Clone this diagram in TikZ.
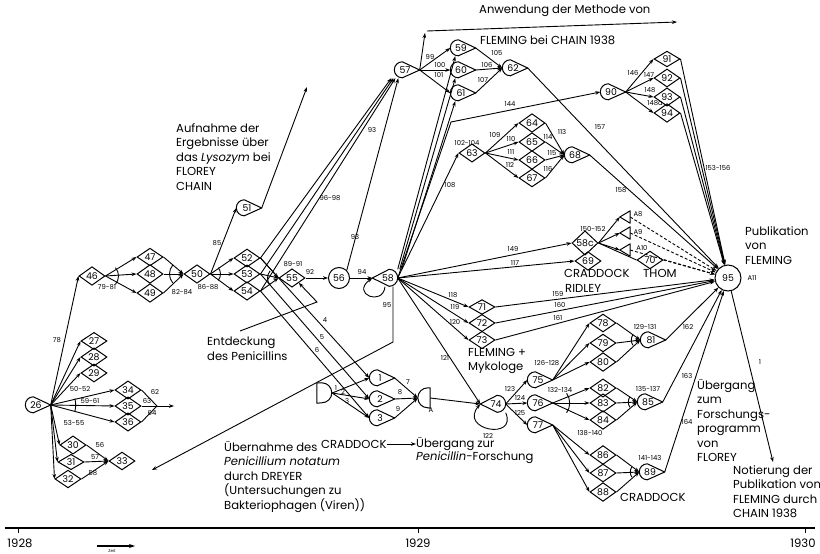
\documentclass[tikz,border=0pt]{standalone}
\usepackage{fontspec}
\setmainfont{Poppins}
\usetikzlibrary{shapes.geometric,arrows.meta,calc}
\newcommand\mypenR[1]{\draw[shp] (#1.east) -- ([xshift=8pt]#1.north west) arc[start angle=90,end angle=270,radius=8pt] -- cycle;}
\newcommand\mypenL[1]{\draw[shp] (#1.west) -- ([xshift=-8.5pt]#1.north east) arc[start angle=90,end angle=-90,radius=8.5pt] -- cycle;}
\newcommand\mytriL[1]{\draw[shp] (#1.west) -- (#1.north east) -- (#1.south east) -- cycle;}
\newcommand\andarc[4]{\draw[ln] ([shift={(#2:#4)}]#1) arc[start angle=#2,end angle=#3,radius=#4];}
\begin{document}
\begin{tikzpicture}[x=1pt,y=-1pt,
  every node/.style={inner sep=0pt},
  num/.style={font=\fontsize{9.3}{10}\selectfont},
  lb/.style={font=\fontsize{6.8}{7}\selectfont},
  bigf/.style={font=\fontsize{11.6}{14.5}\selectfont},
  txt/.style={bigf, align=left, anchor=north west},
  dia/.style={diamond, draw, line width=1pt, minimum width=26pt, minimum height=13pt, num},
  pen/.style={rectangle, minimum width=25pt, minimum height=16pt, num, execute at begin node=\kern-2pt, execute at end node=\kern2pt},
  penl/.style={rectangle, minimum width=25pt, minimum height=17pt, num, execute at begin node=\kern3pt, execute at end node=\kern-3pt},
  circ/.style={circle, draw, line width=1pt, num},
  shp/.style={line width=1pt, line join=round},
  ln/.style={line width=0.9pt},
  arr/.style={ln, -{Stealth[length=5pt,width=3.6pt]}},
  dsh/.style={ln, dash pattern=on 3pt off 2pt, -{Stealth[length=5pt,width=3.6pt]}},
]
\useasboundingbox (0,0) rectangle (820,554);
% ---------------- nodes ----------------
\node[pen] (n26) at (38,405) {26};
\node[dia] (n27) at (94,341) {27};
\node[dia] (n28) at (94,357) {28};
\node[dia] (n29) at (94,373) {29};
\node[dia] (n34) at (128,390) {34};
\node[dia] (n35) at (128,406) {35};
\node[dia] (n36) at (128,422) {36};
\node[dia] (n30) at (73,445) {30};
\node[dia] (n31) at (71,462) {31};
\node[dia] (n32) at (68,479) {32};
\node[dia] (n33) at (122,461) {33};
\node[dia] (n46) at (92,276) {46};
\node[dia] (n47) at (150,257) {47};
\node[dia] (n48) at (150,274) {48};
\node[dia] (n49) at (150,293) {49};
\node[dia] (n50) at (197,274) {50};
\node[pen] (n51) at (249,208) {51};
\node[dia] (n52) at (247,258) {52};
\node[dia] (n53) at (247,274) {53};
\node[dia] (n54) at (247,291) {54};
\node[dia] (n55) at (292,278) {55};
\node[circ, minimum size=21pt] (n56) at (339,278) {56};
\node[penl] (n58) at (385,278) {58};
\node[pen] (n57) at (407,70) {57};
\node[pen] (n59) at (463,48) {59};
\node[pen] (n60) at (463,70) {60};
\node[pen] (n61) at (463,93) {61};
\node[pen] (n62) at (515,68) {62};
\node[dia] (n63) at (472,153) {63};
\node[dia] (n64) at (532,123) {64};
\node[dia] (n65) at (532,142) {65};
\node[dia] (n66) at (532,160) {66};
\node[dia] (n67) at (532,178) {67};
\node[pen] (n68) at (577,155) {68};
\node[pen] (n90) at (613,92) {90};
\node[dia] (n91) at (667,59) {91};
\node[dia] (n92) at (667,78) {92};
\node[dia] (n93) at (667,97) {93};
\node[dia] (n94) at (667,113) {94};
\node[dia] (n58c) at (585,243) {58c};
\node[minimum width=10pt, minimum height=12pt] (nA8) at (625,217) {};
\node[minimum width=10pt, minimum height=12pt] (nA9) at (625,233) {};
\node[minimum width=10pt, minimum height=12pt] (nA10) at (625,250) {};
\node[dia] (n69) at (588,261) {69};
\node[dia] (n70) at (650,260) {70};
\node[circ, minimum size=26pt] (n95) at (728,278) {95};
\node[dia] (n71) at (482,307) {71};
\node[dia] (n72) at (482,323) {72};
\node[dia] (n73) at (482,340) {73};
\node[penl] (n74) at (493,404) {74};
\node[pen] (n75) at (540,380) {75};
\node[pen] (n76) at (540,403) {76};
\node[pen] (n77) at (540,425) {77};
\node[dia] (n78) at (603,323) {78};
\node[dia] (n79) at (603,343) {79};
\node[dia] (n80) at (603,362) {80};
\node[pen] (n81) at (653,340) {81};
\node[dia] (n82) at (603,388) {82};
\node[dia] (n83) at (603,403) {83};
\node[dia] (n84) at (603,420) {84};
\node[pen] (n85) at (650,402) {85};
\node[dia] (n86) at (603,455) {86};
\node[dia] (n87) at (603,473) {87};
\node[dia] (n88) at (603,492) {88};
\node[pen] (n89) at (652,472) {89};
\node[minimum width=15pt, minimum height=20pt] (nD) at (324.5,393) {};
\node[pen] (n1) at (382,378) {1};
\node[pen] (n2) at (382,399) {2};
\node[pen] (n3) at (382,418) {3};
\node[minimum width=12pt, minimum height=20pt] (nA) at (424,398) {};
% shapes
\foreach \n in {n26,n51,n57,n59,n60,n61,n62,n68,n90,n75,n76,n77,n81,n85,n89,n1,n2,n3} {\mypenR{\n}}
\mypenL{n58}\mypenL{n74}
\foreach \n in {nA8,nA9,nA10} {\mytriL{\n}}
\draw[shp] (nD.north west) -- ([xshift=5pt]nD.north west) arc[start angle=90,end angle=-90,radius=10pt] -- (nD.south west) -- cycle;
\draw[shp] (nA.north east) -- ([xshift=10pt]nA.north west) arc[start angle=90,end angle=270,radius=10pt] -- (nA.south east) -- cycle;
% ---------------- coordinates ----------------
\coordinate (c35) at (157,406);
\coordinate (c35e) at (174,406);
\coordinate (c51) at (307,87);
\coordinate (c57a) at (425,33);
\coordinate (c57b) at (427,31);
\coordinate (c57c) at (677,22);
\coordinate (c144) at (451,122);
\coordinate (e1) at (240,331);
\coordinate (e2) at (317,302);
\coordinate (ub1) at (393,342);
\coordinate (ub2) at (152,470);
\coordinate (c1) at (773,462);
\coordinate (zs) at (97,546);
\coordinate (ze) at (135,546);
% ---------------- edges ----------------
\draw[arr] (n26.east) -- (n46.west);
\foreach \t in {n27,n28,n29,n34,n35,n36,n30,n31,n32} {\draw[arr] (n26.east) -- (\t.west);}
\foreach \t in {n34,n35,n36} {\draw[ln] (\t.east) -- (c35);}
\draw[arr] (c35) -- (c35e);
\foreach \t in {n30,n31,n32} {\draw[arr] (\t.east) -- (n33.west);}
\foreach \t in {n47,n48,n49} {\draw[arr] (n46.east) -- (\t.west); \draw[arr] (\t.east) -- (n50.west);}
\draw[arr] (n50.east) -- (n51.west);
\draw[arr] (n51.east) -- (c51);
\foreach \t in {n52,n53,n54} {\draw[arr] (n50.east) -- (\t.west); \draw[arr] (\t.east) -- (n55.west);}
\draw[arr] (n52.east) -- ([xshift=-3pt]n57.south west);
\draw[arr] (n53.east) -- ([xshift=-1pt]n57.south west);
\draw[arr] (n54.east) -- ([xshift=1pt]n57.south west);
\draw[arr] (n52.east) -- (n1.west);
\draw[arr] (n53.east) -- (n2.west);
\draw[arr] (n54.east) -- (n3.west);
\draw[arr] (n55.east) -- (n56.west);
\draw[arr] (n56.east) -- (n58.west);
\draw[arr] (n56.north east) -- ([xshift=4pt]n57.south west);
\draw[arr] (n58.south) .. controls +(-2,20) and +(-22,16) .. (n58.west);
\draw[arr] (n58.north east) -- ([xshift=5pt]n59.south west);
\draw[arr] ([xshift=2pt]n58.north east) -- ([xshift=5pt]n60.south west);
\draw[arr] ([xshift=4pt]n58.north east) -- ([xshift=5pt]n61.south west);
\draw[arr] (n57.east) -- (c57a);
\draw[arr] (c57b) -- (c57c);
\foreach \t in {n59,n60,n61} {\draw[arr] (n57.east) -- (\t.west); \draw[arr] (\t.east) -- (n62.west);}
\draw[arr] (n62.east) -- (n95);
\draw[arr] (n58.east) -- (c144) -- (n90.west);
\draw[arr] (n58.east) -- (n63.west);
\foreach \t in {n64,n65,n66,n67} {\draw[arr] (n63.east) -- (\t.west); \draw[arr] (\t.east) -- (n68.west);}
\draw[arr] (n68.east) -- (n95);
\foreach \t in {n91,n92,n93,n94} {\draw[arr] (n90.east) -- (\t.west); \draw[arr] (\t.east) -- (n95);}
\draw[arr] (n58.east) -- (n58c.west);
\draw[arr] (n58.east) -- (n69.west);
\foreach \t in {nA8,nA9,nA10} {\draw[arr] (n58c.east) -- (\t.west); \draw[dsh] (\t.east) -- (n95);}
\draw[ln] (n58c.east) -- (n70.west);
\draw[dsh] (n70.east) -- (n95);
\foreach \t in {n71,n72,n73} {\draw[arr] (n58.east) -- (\t.west); \draw[arr] (\t.east) -- (n95);}
\draw[arr] (n58.east) -- (n74.west);
\foreach \t in {n1,n2,n3} {\draw[arr] (nD.east) -- (\t.west); \draw[arr] (\t.east) -- (nA.west);}
\draw[arr] (nA.east) -- (n74.west);
\draw[arr] (n74.south east) .. controls +(12,28) and +(-22,26) .. (n74.west);
\foreach \t in {n75,n76,n77} {\draw[arr] (n74.east) -- (\t.west);}
\foreach \t in {n78,n79,n80} {\draw[arr] (n75.east) -- (\t.west); \draw[arr] (\t.east) -- (n81.west);}
\foreach \t in {n82,n83,n84} {\draw[arr] (n76.east) -- (\t.west); \draw[arr] (\t.east) -- (n85.west);}
\foreach \t in {n86,n87,n88} {\draw[arr] (n77.east) -- (\t.west); \draw[arr] (\t.east) -- (n89.west);}
\foreach \t in {n81,n85,n89} {\draw[arr] (\t.east) -- (n95);}
\draw[arr] (n95) -- (c1);
\draw[arr] (e1) -- (e2) -- (n55.south east);
\draw[arr] ([xshift=8pt]n58.south) -- (ub1) -- (ub2);
% and-arcs
\andarc{n26.east}{-15}{15}{25pt}
\andarc{n46.east}{-40}{40}{13pt}
\andarc{n50.west}{140}{220}{14pt}
\andarc{n50.east}{-40}{40}{10pt}
\andarc{n55.west}{140}{220}{11pt}
\andarc{n76.east}{-35}{35}{17pt}
\andarc{n81.west}{145}{215}{9pt}
\andarc{n85.west}{145}{215}{9pt}
\andarc{n89.west}{145}{215}{9pt}
% ---------------- edge labels ----------------
\node[lb] (l78) at (57,340) {78};
\node[lb] (l5052) at (80,389) {50-52};
\node[lb] (l5961) at (90,401) {59-61};
\node[lb] (l5355) at (74,423) {53-55};
\node[lb] (l62) at (155,392) {62};
\node[lb] (l63) at (147,401) {63};
\node[lb] (l64) at (152,413) {64};
\node[lb] (l56) at (100,445) {56};
\node[lb] (l57) at (95,457) {57};
\node[lb] (l58) at (93,473) {58};
\node[lb] (l7981) at (107,287) {79-81};
\node[lb] (l8284) at (182,292) {82-84};
\node[lb] (l85) at (217,243) {85};
\node[lb] (l8688) at (208,287) {86-88};
\node[lb] (l8991) at (293,264) {89-91};
\node[lb] (l92) at (310,272) {92};
\node[lb] (l93a) at (355,237) {93};
\node[lb] (l93b) at (372,130) {93};
\node[lb] (l94) at (362,272) {94};
\node[lb] (l95) at (387,305) {95};
\node[lb] (l9698) at (330,198) {96-98};
\node[lb] (l4) at (325,320) {4};
\node[lb] (l5) at (322,337) {5};
\node[lb] (l6) at (317,350) {6};
\node[lb] (l1) at (336,388) {1};
\node[lb] (l2) at (343,392) {2};
\node[lb] (l3) at (347,401) {3};
\node[lb] (l7) at (408,382) {7};
\node[lb] (l8) at (400,392) {8};
\node[lb] (l9) at (398,409) {9};
\node[lb] (lA) at (431,410) {A};
\node[lb] (l99) at (430,57) {99};
\node[lb] (l100) at (440,65) {100};
\node[lb] (l101) at (439,75) {101};
\node[lb] (l105) at (497,53) {105};
\node[lb] (l106) at (487,65) {106};
\node[lb] (l107) at (483,80) {107};
\node[lb] (l144) at (510,104) {144};
\node[lb] (l102) at (467,143) {102-104};
\node[lb] (l108) at (450,185) {108};
\node[lb] (l109) at (495,135) {109};
\node[lb] (l110) at (511,139) {110};
\node[lb] (l111) at (511,152) {111};
\node[lb] (l112) at (510,165) {112};
\node[lb] (l113) at (562,132) {113};
\node[lb] (l114) at (548,137) {114};
\node[lb] (l115) at (552,153) {115};
\node[lb] (l116) at (548,169) {116};
\node[lb] (l157) at (600,127) {157};
\node[lb] (l158) at (621,190) {158};
\node[lb] (l146) at (633,73) {146};
\node[lb] (l147) at (649,75) {147};
\node[lb] (l148) at (650,90) {148};
\node[lb] (l148a) at (655,103) {148a};
\node[lb] (l153) at (718,168) {153-156};
\node[lb] (l150) at (593,229) {150-152};
\node[lb] (lA8) at (638,214) {A8};
\node[lb] (lA9) at (638,232) {A9};
\node[lb] (lA10) at (642,248) {A10};
\node[lb] (l149) at (513,249) {149};
\node[lb] (l117) at (515,263) {117};
\node[lb] (l118) at (453,295) {118};
\node[lb] (l119) at (455,307) {119};
\node[lb] (l120) at (455,322) {120};
\node[lb] (l121) at (445,358) {121};
\node[lb] (l159) at (558,294) {159};
\node[lb] (l160) at (560,305) {160};
\node[lb] (l161) at (558,318) {161};
\node[lb] (l122) at (488,436) {122};
\node[lb] (l123) at (510,389) {123};
\node[lb] (l124) at (520,398) {124};
\node[lb] (l125) at (520,413) {125};
\node[lb] (l126) at (547,363) {126-128};
\node[lb] (l132) at (560,390) {132-134};
\node[lb] (l138) at (590,433) {138-140};
\node[lb] (l129) at (645,327) {129-131};
\node[lb] (l135) at (648,389) {135-137};
\node[lb] (l141) at (650,458) {141-143};
\node[lb] (l162) at (688,327) {162};
\node[lb] (l163) at (687,376) {163};
\node[lb] (l164) at (687,422) {164};
\node[lb] (l1b) at (760,362) {1};
\node[lb] (lA11) at (752,278) {A11};
% ---------------- texts ----------------
\node[txt] (anw) at (479,5) {Anwendung der Methode von};
\node[txt] (flem) at (480,35) {FLEMING bei CHAIN 1938};
\node[txt] (aufn) at (176,123) {Aufnahme der\\Ergebnisse über\\das \textit{Lysozym} bei\\FLOREY\\CHAIN};
\node[txt] (entd) at (207,337) {Entdeckung\\des Penicillins};
\node[txt] (uebn) at (224,441) {Übernahme des\\\textit{Penicillium notatum}\\durch DREYER\\(Untersuchungen zu\\Bakteriophagen (Viren))};
\node[bigf, anchor=west] (crad1) at (321,444) {CRADDOCK};
\node[bigf, anchor=west] (ueb2a) at (416,444) {Übergang zur};
\node[bigf, anchor=west] (ueb2b) at (416,458) {\textit{Penicillin}-Forschung};
\draw[arr] (crad1.east) -- (ueb2a.west);
\node[txt] (flmy) at (468,348) {FLEMING +\\Mykologe};
\node[txt] (crad2) at (564,269) {CRADDOCK};
\node[txt] (ridley) at (565,284) {RIDLEY};
\node[txt] (thom) at (643,269) {THOM};
\node[txt] (publ) at (745,226) {Publikation\\von\\FLEMING};
\node[txt] (uebg) at (697,379) {Übergang\\zum\\Forschungs-\\programm\\von\\FLOREY};
\node[txt] (notier) at (733,465) {Notierung der\\Publikation von\\FLEMING durch\\CHAIN 1938};
\node[bigf, anchor=west] (crad3) at (620,497) {CRADDOCK};
% ---------------- timeline ----------------
\coordinate (t0) at (5,528);
\coordinate (t1) at (815,528);
\draw[line width=2.6pt] (t0) -- (t1);
\coordinate (k1) at (18,528);
\coordinate (k2) at (418,528);
\coordinate (k3) at (805,528);
\foreach \k in {k1,k2,k3} {\draw[line width=1pt] (\k) -- ++(0,5);}
\node[font=\fontsize{11.6}{12}\selectfont] (y1928) at (20,543) {1928};
\node[font=\fontsize{11.6}{12}\selectfont] (y1929) at (418,543) {1929};
\node[font=\fontsize{11.6}{12}\selectfont] (y1930) at (803,543) {1930};
\draw[line width=1.4pt, -{Stealth[length=6pt,width=4pt]}] (zs) -- (ze);
\node[font=\fontsize{4}{4}\selectfont] (zeit) at (112,551) {Zeit};
\end{tikzpicture}
\end{document}
